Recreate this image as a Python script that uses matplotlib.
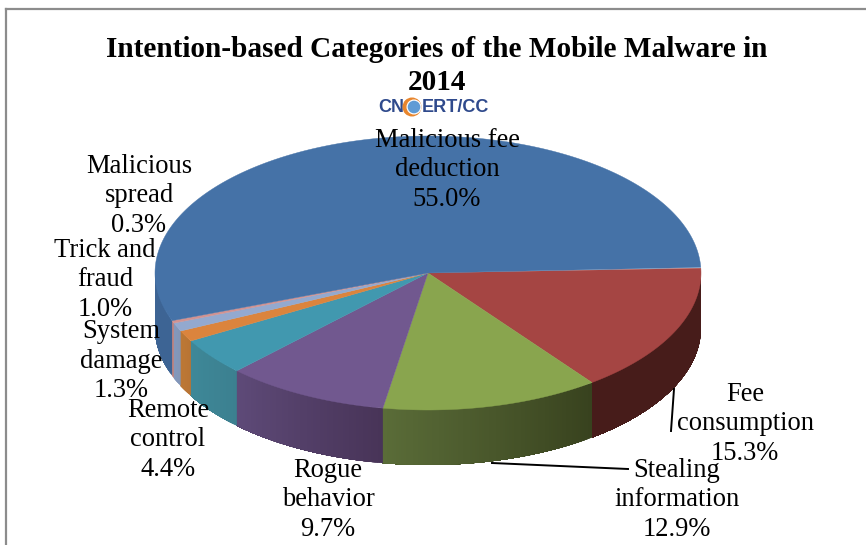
import numpy as np
import matplotlib
matplotlib.use('Agg')
import matplotlib.pyplot as plt
from matplotlib.patches import Circle

categorias = ['Fee\nconsumption', 'Stealing\ninformation', 'Rogue\nbehavior', 'Remote\ncontrol',
              'System\ndamage', 'Trick and\nfraud', 'Malicious\nspread', 'Malicious fee\ndeduction']
valores = [15.3, 12.9, 9.7, 4.4, 1.3, 1.0, 0.3, 55.0]
cores_topo = ['#A54543', '#89A54E', '#71588F', '#4198AF', '#DB843D', '#93A9CF', '#D19392', '#4572A7']
# lateral do cilindro: cor no inicio e no fim do arco visivel (sentido horario)
cores_lado_ini = ['#471C1A', '#38421E', '#483458', '#3C8090', '#B87434', '#8296B8', '#B88080', '#3D6494']
cores_lado_fim = ['#471C1A', '#5A6C38', '#5E4A78', '#3E8898', '#BC7836', '#8498BC', '#BA8282', '#3D6494']
pos_rotulos = [(745, 424), (677, 500), (328, 500), (168, 440), (121, 361), (105, 280), (139, 196), (447, 170)]

cx, cy = 428, 273
rx, ry = 273, 137
altura = 55
inicio = 2.0


def hex_rgb(c):
    return np.array(matplotlib.colors.to_rgb(c))


def arco(t):
    return cx + rx * np.cos(np.radians(t)), cy - ry * np.sin(np.radians(t))


def desenhar_lado(ax, t1, t2, c1, c2):
    # so a parte da frente (angulos entre -180 e 0) aparece
    a, b = min(t1, 0), max(t2, -180)
    if a <= b:
        return
    passos = np.linspace(a, b, max(2, int(a - b) * 2 + 2))
    for i in range(len(passos) - 1):
        f = i / max(1, len(passos) - 2)
        # cada faixa vai ate o fim do arco e a seguinte pinta por cima, assim nao ficam emendas
        resto = passos[i:]
        x, y = arco(resto)
        ax.fill(np.r_[x, x[::-1]], np.r_[y, y[::-1] + altura],
                color=hex_rgb(c1) * (1 - f) + hex_rgb(c2) * f, lw=0, zorder=2)


def desenhar_pizza(ax):
    t = inicio
    for val, topo, ini, fim in zip(valores, cores_topo, cores_lado_ini, cores_lado_fim):
        t2 = t - val * 3.6
        desenhar_lado(ax, t, t2, ini, fim)
        ang = np.linspace(t, t2, 240)
        x, y = arco(ang)
        ax.fill(np.r_[cx, x], np.r_[cy, y], color=topo, lw=0.3, zorder=3)
        t = t2


def desenhar_logo(ax):
    ax.text(391, 107, 'CN', color='#2F4A8C', fontsize=13, fontweight='bold', family='Liberation Sans',
            ha='center', va='center', zorder=6)
    ax.add_patch(Circle((412, 107), 9.5, fc='#E8862E', ec='none', zorder=6))
    ax.add_patch(Circle((414, 107), 7.5, fc='white', ec='none', zorder=7))
    ax.add_patch(Circle((414, 107), 6.3, fc='#5F9BD5', ec='none', zorder=8))
    ax.text(455, 107, 'ERT/CC', color='#2F4A8C', fontsize=13, fontweight='bold', family='Liberation Sans',
            ha='center', va='center', zorder=6)


if __name__ == "__main__":
    plt.rcParams['font.family'] = ['Liberation Serif', 'DejaVu Serif']
    fig = plt.figure(figsize=(8.66, 5.45), dpi=100)
    ax = fig.add_axes([0, 0, 1, 1])
    ax.set_xlim(0, 866)
    ax.set_ylim(545, 0)
    ax.axis('off')

    # moldura do grafico
    ax.plot([6, 6], [545, 9], color='#8C8C8C', lw=1.6)
    ax.plot([6, 866], [9, 9], color='#8C8C8C', lw=1.6)

    desenhar_pizza(ax)
    desenhar_logo(ax)

    ax.text(437, 66, 'Intention-based Categories of the Mobile Malware in\n2014', fontsize=21.1,
            fontweight='bold', ha='center', va='center', linespacing=1.25, zorder=6)

    # linhas de chamada
    ax.plot([674, 671], [389, 431], color='black', lw=1.4, zorder=4)
    ax.plot([492, 628], [463, 469], color='black', lw=1.4, zorder=4)

    for nome, val, pos in zip(categorias, valores, pos_rotulos):
        ax.text(pos[0], pos[1], f'{nome}\n{val:.1f}%', fontsize=19.1, ha='center', va='center',
                linespacing=1.24, zorder=6)

    fig.savefig('out.png', dpi=100)
